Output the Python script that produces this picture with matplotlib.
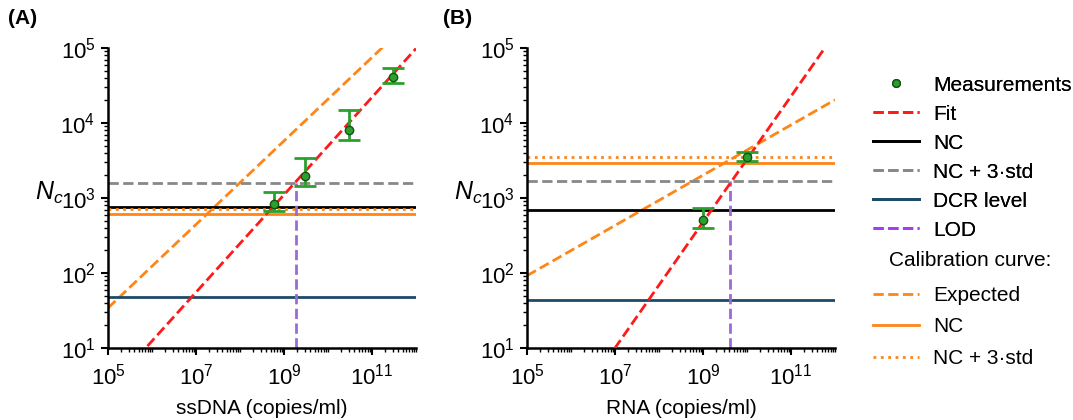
import matplotlib
matplotlib.use("Agg")
import matplotlib.pyplot as plt
import numpy as np
from matplotlib.lines import Line2D
from matplotlib.ticker import FixedLocator, LogLocator, NullFormatter

plt.rcParams["font.family"] = ["Liberation Sans", "DejaVu Sans"]
plt.rcParams["mathtext.fontset"] = "custom"
plt.rcParams["mathtext.rm"] = "Liberation Sans"
plt.rcParams["mathtext.it"] = "Liberation Sans:italic"
plt.rcParams["font.size"] = 14

# ---- Panel A: ssDNA ----
meas_x_a = [6.0e8, 3.0e9, 3.0e10, 3.0e11]
meas_y_a = [830, 1950, 8100, 41500]
err_lo_a = [670, 1450, 5900, 34000]
err_hi_a = [1200, 3400, 14800, 53500]
fit_slope_a, fit_logc_a = 0.65, -2.807          # log10(y) = slope*log10(x) + logc
exp_slope_a, exp_logc_a = 0.557, -1.252
nc_a, nc3_a, dcr_a = 770, 1600, 48
cal_nc_a, cal_nc3_a = 620, 720
lod_a = 1.86e9

# ---- Panel B: RNA ----
meas_x_b = [1.0e9, 1.0e10]
meas_y_b = [515, 3520]
err_lo_b = [400, 3150]
err_hi_b = [740, 4050]
fit_slope_b, fit_logc_b = 0.839, -4.873
exp_slope_b, exp_logc_b = 0.335, 0.289
nc_b, nc3_b, dcr_b = 690, 1700, 44
cal_nc_b, cal_nc3_b = 2950, 3550
lod_b = 4.1e9

C_MEAS = "#2ca02c"
C_FIT = "#ff1a1a"
C_NC = "black"
C_NC3 = "#888888"
C_DCR = "#1d4a68"
C_LOD = "#9b6ad6"
C_CAL = "#ff8517"

XMIN, XMAX = 1e5, 1e12
YMIN, YMAX = 10, 1e5


def draw_panel(ax, mx, my, elo, ehi, fs, fc, es, ec, nc, nc3, dcr, cnc, cnc3, lod, xlabel):
    xx = np.logspace(5, 12, 200)
    ax.plot(xx, 10 ** (es * np.log10(xx) + ec), ls="--", color=C_CAL, lw=2)
    ax.plot(xx, 10 ** (fs * np.log10(xx) + fc), ls="--", color=C_FIT, lw=2, zorder=4)
    ax.axhline(nc, color=C_NC, lw=2)
    ax.axhline(nc3, color=C_NC3, lw=2, ls="--")
    ax.axhline(dcr, color=C_DCR, lw=2)
    ax.axhline(cnc, color=C_CAL, lw=2)
    ax.axhline(cnc3, color=C_CAL, lw=2, ls=":")
    ax.plot([lod, lod], [YMIN, nc3], color=C_LOD, lw=2, ls="--")

    my = np.array(my)
    yerr = [my - np.array(elo), np.array(ehi) - my]
    ax.errorbar(mx, my, yerr=yerr, fmt="o", color=C_MEAS, ecolor=C_MEAS,
                mfc=C_MEAS, mec="#145214", ms=6, elinewidth=2, capsize=8,
                capthick=2, zorder=5)

    ax.set_xscale("log")
    ax.set_yscale("log")
    ax.set_xlim(XMIN, XMAX)
    ax.set_ylim(YMIN, YMAX)
    ax.xaxis.set_major_locator(FixedLocator([1e5, 1e7, 1e9, 1e11]))
    ax.xaxis.set_minor_locator(LogLocator(base=10, subs=np.arange(1, 10), numticks=30))
    ax.xaxis.set_minor_formatter(NullFormatter())
    ax.yaxis.set_major_locator(FixedLocator([1e1, 1e2, 1e3, 1e4, 1e5]))
    ax.yaxis.set_minor_locator(LogLocator(base=10, subs=np.arange(2, 10), numticks=30))
    ax.yaxis.set_minor_formatter(NullFormatter())
    ax.tick_params(which="major", length=5, width=1.5, labelsize=16)
    ax.tick_params(axis="x", which="major", pad=6)
    ax.tick_params(axis="y", which="major", pad=4)
    ax.tick_params(which="minor", length=3, width=1)
    for s in ["top", "right"]:
        ax.spines[s].set_visible(False)
    for s in ["left", "bottom"]:
        ax.spines[s].set_linewidth(1.8)
    ax.set_xlabel(xlabel, fontsize=15, labelpad=7)
    ax.annotate(r"$N_c$", xy=(0, 1e3), xycoords=("axes fraction", "data"),
                xytext=(-32, 4), textcoords="offset points",
                ha="right", va="center", fontsize=18)


fig = plt.figure(figsize=(10.73, 4.2), dpi=100)
ax_a = fig.add_axes([108 / 1073, 72 / 420, 308 / 1073, 300 / 420])
ax_b = fig.add_axes([527 / 1073, 72 / 420, 308 / 1073, 300 / 420])

draw_panel(ax_a, meas_x_a, meas_y_a, err_lo_a, err_hi_a, fit_slope_a, fit_logc_a,
           exp_slope_a, exp_logc_a, nc_a, nc3_a, dcr_a, cal_nc_a, cal_nc3_a, lod_a,
           "ssDNA (copies/ml)")
draw_panel(ax_b, meas_x_b, meas_y_b, err_lo_b, err_hi_b, fit_slope_b, fit_logc_b,
           exp_slope_b, exp_logc_b, nc_b, nc3_b, dcr_b, cal_nc_b, cal_nc3_b, lod_b,
           "RNA (copies/ml)")

fig.text(8 / 1073, 1 - 18 / 420, "(A)", fontweight="bold", fontsize=15, va="center")
fig.text(443 / 1073, 1 - 18 / 420, "(B)", fontweight="bold", fontsize=15, va="center")

# ---- Legends ----
h1 = [
    Line2D([], [], ls="none", marker="o", ms=5.5, mfc=C_MEAS, mec="#145214"),
    Line2D([], [], ls="--", color=C_FIT, lw=2),
    Line2D([], [], ls="-", color=C_NC, lw=2),
    Line2D([], [], ls="--", color=C_NC3, lw=2),
    Line2D([], [], ls="-", color=C_DCR, lw=2),
    Line2D([], [], ls="--", color="#a43cf0", lw=2),
]
l1 = ["Measurements", "Fit", "NC", "NC + 3·std", "DCR level", "LOD"]
h2 = [
    Line2D([], [], ls="--", color=C_CAL, lw=2),
    Line2D([], [], ls="-", color=C_CAL, lw=2),
    Line2D([], [], ls=":", color=C_CAL, lw=2),
]
l2 = ["Expected", "NC", "NC + 3·std"]

leg1 = fig.legend(h1, l1, loc="upper left", bbox_to_anchor=(0.8136, 0.82),
                  frameon=False, fontsize=15, handlelength=2.2, handletextpad=0.7,
                  labelspacing=0.48, borderpad=0, borderaxespad=0)
fig.add_artist(leg1)
fig.text(970 / 1073, 1 - 261 / 420, "Calibration curve:", fontsize=15,
         ha="center", va="center")
fig.legend(h2, l2, loc="upper left", bbox_to_anchor=(0.8136, 1 - 286 / 420),
           frameon=False, fontsize=15, handlelength=2.2, handletextpad=0.7,
           labelspacing=0.6, borderpad=0, borderaxespad=0)

fig.savefig("out.png", dpi=100)
